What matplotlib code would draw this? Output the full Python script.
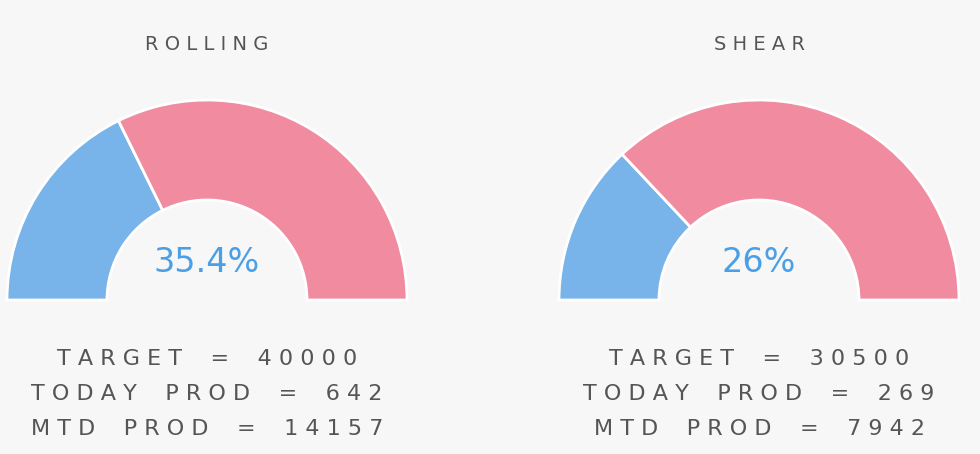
import matplotlib
matplotlib.use("Agg")
import matplotlib.pyplot as plt
from matplotlib.patches import Wedge

# gauge data
titles = ["ROLLING", "SHEAR"]
percents = [35.4, 26.0]
pct_labels = ["35.4%", "26%"]
targets = [40000, 30500]
today_prod = [642, 269]
mtd_prod = [14157, 7942]

BLUE = "#78b4e9"
PINK = "#f08ba0"
TEXT = "#555555"
BG = "#f7f7f7"


def spaced(s):
    # fake letter spacing
    return " ".join(s).replace("   ", "    ")


fig = plt.figure(figsize=(9.8, 4.54), dpi=100, facecolor=BG)
ax = fig.add_axes([0, 0, 1, 1])
ax.set_xlim(0, 980)
ax.set_ylim(454, 0)
ax.set_aspect("equal")
ax.axis("off")
ax.set_facecolor(BG)

centers = [207, 759]
cy = 300
r_out, width = 200, 100

for i, cx in enumerate(centers):
    split = 180 - 180 * percents[i] / 100
    # y axis inverted -> use negative angles to draw upwards
    ax.add_patch(Wedge((cx, cy), r_out, -180, -split, width=width,
                       facecolor=BLUE, edgecolor="white", linewidth=2))
    ax.add_patch(Wedge((cx, cy), r_out, -split, 0, width=width,
                       facecolor=PINK, edgecolor="white", linewidth=2))
    ax.text(cx, 262, pct_labels[i], ha="center", va="center",
            fontsize=24, color="#4a9fe6", family="DejaVu Sans")
    ax.text(cx, 44, spaced(titles[i]), ha="center", va="center",
            fontsize=14, color=TEXT)
    lines = [f"TARGET = {targets[i]}",
             f"TODAY PROD = {today_prod[i]}",
             f"MTD PROD = {mtd_prod[i]}"]
    for j, line in enumerate(lines):
        ax.text(cx, 359 + 35 * j, spaced(line), ha="center", va="center",
                fontsize=16, color=TEXT)

fig.savefig("out.png", dpi=100, facecolor=BG)
